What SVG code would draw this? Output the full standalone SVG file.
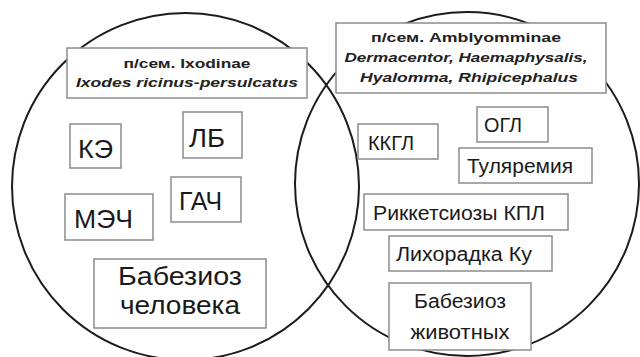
<svg xmlns="http://www.w3.org/2000/svg" width="640" height="357" viewBox="0 0 640 357">
<style>
.set{fill:none;stroke:#1c1c1c;stroke-width:2}
.box{fill:#ffffff;stroke:#8c8c8c;stroke-width:1.5}
.hd{font-family:"Liberation Sans",Arial,sans-serif;font-weight:bold;font-size:13.5px;fill:#222;text-anchor:middle}
.it{font-style:italic}
.lb{font-family:"Liberation Sans",Arial,sans-serif;fill:#1a1a1a}
.big{font-size:26px}
.mid{font-size:25px}
.sm{font-size:20px}
.c{text-anchor:middle}
</style>
<rect width="640" height="357" fill="#ffffff"/>
<g id="sets">
<circle class="set" cx="185.5" cy="186.5" r="173.5"/>
<circle class="set" cx="467" cy="184" r="172"/>
</g>
<g id="ixodinae">
<rect class="box" x="67" y="48" width="240" height="50"/>
<text class="hd" x="187" y="68" textLength="127" lengthAdjust="spacingAndGlyphs">п/сем. Ixodinae</text>
<text class="hd it" x="187" y="87" textLength="222" lengthAdjust="spacingAndGlyphs">Ixodes ricinus-persulcatus</text>
</g>
<g id="amblyomminae">
<rect class="box" x="336" y="23" width="270" height="70"/>
<text class="hd" x="466" y="42" textLength="190" lengthAdjust="spacingAndGlyphs">п/сем. Amblyomminae</text>
<text class="hd it" x="466" y="62" textLength="243" lengthAdjust="spacingAndGlyphs">Dermacentor, Haemaphysalis,</text>
<text class="hd it" x="469" y="82" textLength="218" lengthAdjust="spacingAndGlyphs">Hyalomma, Rhipicephalus</text>
</g>
<g id="ke">
<rect class="box" x="70" y="124" width="51" height="44"/>
<text class="lb big" x="78" y="158" textLength="35" lengthAdjust="spacingAndGlyphs">КЭ</text>
</g>
<g id="lb">
<rect class="box" x="183" y="112" width="59" height="46"/>
<text class="lb big" x="189" y="147" textLength="36" lengthAdjust="spacingAndGlyphs">ЛБ</text>
</g>
<g id="gach">
<rect class="box" x="171" y="177" width="70" height="45"/>
<text class="lb big" x="179" y="210" textLength="43" lengthAdjust="spacingAndGlyphs">ГАЧ</text>
</g>
<g id="mech">
<rect class="box" x="65" y="194" width="88" height="46"/>
<text class="lb big" x="74" y="228" textLength="59" lengthAdjust="spacingAndGlyphs">МЭЧ</text>
</g>
<g id="babesiosis-human">
<rect class="box" x="94" y="259" width="172" height="69"/>
<text class="lb mid c" x="180" y="285" textLength="124" lengthAdjust="spacingAndGlyphs">Бабезиоз</text>
<text class="lb mid c" x="180" y="314" textLength="120" lengthAdjust="spacingAndGlyphs">человека</text>
</g>
<g id="kkgl">
<rect class="box" x="358" y="124" width="80" height="35"/>
<text class="lb sm" x="368" y="150" textLength="46" lengthAdjust="spacingAndGlyphs">ККГЛ</text>
</g>
<g id="ogl">
<rect class="box" x="477" y="107" width="71" height="35"/>
<text class="lb sm" x="484" y="132" textLength="38" lengthAdjust="spacingAndGlyphs">ОГЛ</text>
</g>
<g id="tularemia">
<rect class="box" x="459" y="148" width="133" height="35"/>
<text class="lb sm" x="467" y="173" textLength="106" lengthAdjust="spacingAndGlyphs">Туляремия</text>
</g>
<g id="rickettsioses">
<rect class="box" x="364" y="194" width="204" height="36"/>
<text class="lb sm" x="373" y="220" textLength="172" lengthAdjust="spacingAndGlyphs">Риккетсиозы КПЛ</text>
</g>
<g id="q-fever">
<rect class="box" x="389" y="236" width="163" height="35"/>
<text class="lb sm" x="396" y="261" textLength="136" lengthAdjust="spacingAndGlyphs">Лихорадка Ку</text>
</g>
<g id="babesiosis-animal">
<rect class="box" x="389" y="283" width="142" height="67"/>
<text class="lb sm c" x="460" y="308" textLength="92" lengthAdjust="spacingAndGlyphs">Бабезиоз</text>
<text class="lb sm c" x="460" y="339" textLength="99" lengthAdjust="spacingAndGlyphs">животных</text>
</g>
</svg>
